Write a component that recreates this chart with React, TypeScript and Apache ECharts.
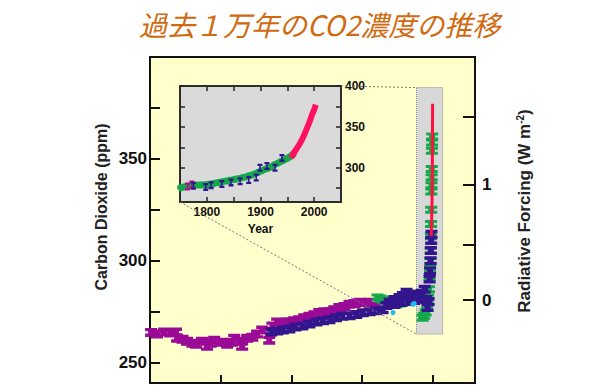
import React, { useEffect, useRef } from "react";
import * as echarts from "echarts";

const titleText = "過去１万年のCO2濃度の推移";
const leftAxisName = "Carbon Dioxide (ppm)";
const rightAxisName = "Radiative Forcing (W m{sup|-2})";
const insetXName = "Year";

// main axes (x = years before 2005)
const mainXTicks = [10000, 7500, 5000, 2500, 0];
const co2Ticks = [250, 275, 300, 325, 350, 375, 400];
const co2Labels = [250, 300, 350];
const forcingTickCO2 = [280.7, 307.7, 337.2, 370.6];
const forcingTickLabels = ["0", "0.5", "1", "1.5"];
const forcingLabelCO2 = [280.7, 337.2];

// inset axes
const insetYearTicks = [1800, 1850, 1900, 1950, 2000];
const insetYearLabels = [1800, 1900, 2000];
const insetCO2Ticks = [275, 300, 325, 350, 375, 400];
const insetCO2Labels = [300, 350, 400];

// shaded box in main chart [BP, ppm]
const boxTopLeft = [570, 385];
const boxBottomRight = [-355, 264];

// main series [years before 2005, ppm]
const magentaMain = [
  [9960, 264.8], [9750, 264], [9500, 265], [9280, 264.5], [9080, 265], [9040, 262],
  [8850, 261.5], [8690, 260.5], [8500, 259.5], [8370, 259], [8160, 260.5], [7980, 258],
  [7850, 259.5], [7730, 261], [7480, 260], [7270, 259], [7100, 260], [7020, 262],
  [6770, 260.5], [6740, 258], [6560, 262], [6380, 262.5], [6210, 264], [6030, 266],
  [5780, 261], [5670, 268], [5500, 270], [5300, 269.5], [5140, 270], [5070, 270],
  [4900, 270.5], [4720, 271], [4540, 272], [4360, 272.7], [4180, 273.5], [4010, 274.6],
  [3830, 275], [3650, 275], [3480, 276], [3300, 277], [3120, 277.5], [2940, 278.6],
  [2760, 279], [2590, 279.6], [2400, 279.5], [2230, 279.6], [2060, 277.6],
];
const blueMain = [
  [5710, 265], [5500, 265.5], [5300, 266], [5070, 266.5], [4850, 267.5], [4610, 268],
  [4360, 269], [4110, 270], [3880, 270.5], [3650, 271], [3420, 272], [3190, 272.7],
  [2940, 273], [2700, 273.6], [2470, 274.5], [2230, 275], [2000, 275.5], [1770, 276],
  [1640, 278], [1520, 279.6], [1350, 281], [1350, 278.5], [1170, 282], [1100, 279.5],
  [1050, 283], [920, 284.5], [850, 280], [800, 283.5], [710, 283], [650, 280.5],
  [600, 282.5], [500, 281.5], [460, 283.5], [380, 284], [280, 286], [220, 281],
  [177, 277], [140, 280], [106, 291], [90, 295], [70, 300], [60, 305], [50, 310], [40, 313],
];
const greenMain = [
  [1950, 282], [1850, 281.5], [1770, 281], [1650, 280.5], [1520, 280], [1400, 279],
  [1280, 278.6], [1170, 279], [1064, 279.6], [950, 280], [816, 281], [700, 281.5],
  [600, 282], [500, 282.5], [420, 281], [355, 272], [300, 273], [248, 274.6],
  [200, 278], [160, 282], [130, 286], [106, 292], [90, 296], [80, 300], [70, 305],
  [60, 312], [55, 318], [50, 325], [45, 334], [40, 337], [35, 341], [30, 345],
  [25, 354], [20, 358], [15, 361],
];
const cyanMain = [[1400, 274.6], [700, 278.6], [650, 279]];
const redMain = [[47, 312], [40, 317], [30, 322], [20, 330], [10, 345], [5, 360], [0, 377]];

// inset series [year, ppm]
const greenInset = [
  [1752, 275.6], [1758, 276.5], [1764, 277.5], [1770, 278], [1776, 278.5], [1782, 278.8],
  [1788, 279], [1794, 279], [1800, 279.3], [1806, 280], [1812, 280.5], [1818, 281.5],
  [1824, 282], [1830, 283], [1836, 283.6], [1842, 284.5], [1848, 285.3], [1854, 286],
  [1860, 286.8], [1866, 287.8], [1872, 288.6], [1878, 290], [1884, 291], [1890, 292.5],
  [1896, 294.5], [1902, 296.3], [1908, 298], [1914, 299.5], [1920, 301], [1926, 303.5],
  [1932, 305.5], [1938, 307.5], [1944, 309.5], [1950, 311.5], [1955, 313.4], [1960, 316],
];
const blueInset = [
  [1775, 278], [1798, 276.5], [1808, 278.5], [1828, 280], [1845, 282], [1862, 283.5],
  [1878, 285], [1892, 288], [1899, 300], [1912, 302], [1927, 300], [1940, 312],
];
const magentaInset = [[1764, 277], [1772, 279.5]];
const redInset = [
  [1957, 312], [1962, 318], [1968, 324], [1972, 328], [1977, 334], [1982, 341],
  [1987, 349], [1992, 357], [1996, 365], [2000, 371], [2003, 377],
];

const FONT = "Liberation Sans, Arial, sans-serif";
const blob = "path://M0,0H10V3H7.5V5H10V8H0V5H2.5V3H0Z";
const iBeam = "path://M0,0H10V2H6.5V5H10V7H0V5H3.5V2H0Z";

export default function App() {
  const ref = useRef<HTMLDivElement>(null);
  useEffect(() => {
    const chart = echarts.init(ref.current!, null, { renderer: "svg" });
    const axisLabelStyle = { color: "#111", fontFamily: FONT, fontWeight: "bold" as const };
    const option: any = {
      animation: false,
      backgroundColor: "#ffffff",
      title: {
        text: titleText,
        left: 134,
        top: 5,
        textStyle: {
          color: "#D06A10",
          fontStyle: "italic",
          fontWeight: "normal",
          fontSize: 28,
          fontFamily: "Noto Sans CJK JP",
        },
      },
      grid: [
        {
          left: 150, right: 125, top: 57, bottom: 7,
          show: true, backgroundColor: "#FFFFCC", borderColor: "#111", borderWidth: 2,
          containLabel: false,
        },
        {
          left: 180, right: 259, top: 86, bottom: 188,
          show: true, backgroundColor: "#DADADA", borderColor: "#222", borderWidth: 1.5,
          containLabel: false,
        },
      ],
      xAxis: [
        {
          type: "value", gridIndex: 0, min: -1500, max: 10000, inverse: true,
          axisLine: { show: true, onZero: false, lineStyle: { color: "#111", width: 2 } },
          axisTick: { show: true, inside: true, length: 8, lineStyle: { color: "#111", width: 2 }, customValues: mainXTicks },
          axisLabel: { show: false },
          splitLine: { show: false },
        },
        {
          type: "value", gridIndex: 1, min: 1750, max: 2050, position: "bottom",
          name: insetXName, nameLocation: "middle", nameGap: 21,
          nameTextStyle: { ...axisLabelStyle, fontSize: 12 },
          axisLine: { show: true, onZero: false, lineStyle: { color: "#222", width: 1.5 } },
          axisTick: { show: true, inside: true, length: 5, lineStyle: { color: "#222", width: 1.5 }, customValues: insetYearTicks },
          axisLabel: { ...axisLabelStyle, fontSize: 12, margin: 4, customValues: insetYearLabels, formatter: (v: number) => String(v) },
          splitLine: { show: false },
        },
        {
          type: "value", gridIndex: 1, min: 1750, max: 2050, position: "top",
          axisLine: { show: true, onZero: false, lineStyle: { color: "#222", width: 1.5 } },
          axisTick: { show: true, inside: true, length: 5, lineStyle: { color: "#222", width: 1.5 }, customValues: insetYearTicks },
          axisLabel: { show: false },
          splitLine: { show: false },
        },
      ],
      yAxis: [
        {
          type: "value", gridIndex: 0, min: 240, max: 400, position: "left",
          axisLine: { show: true, onZero: false, lineStyle: { color: "#111", width: 2 } },
          axisTick: { show: true, inside: true, length: 10, lineStyle: { color: "#111", width: 2 }, customValues: co2Ticks },
          axisLabel: { ...axisLabelStyle, fontSize: 17, margin: 3, customValues: co2Labels },
          splitLine: { show: false },
        },
        {
          type: "value", gridIndex: 0, min: 240, max: 400, position: "right",
          axisLine: { show: true, onZero: false, lineStyle: { color: "#111", width: 2 } },
          axisTick: { show: true, inside: true, length: 12, lineStyle: { color: "#111", width: 2 }, customValues: forcingTickCO2 },
          axisLabel: {
            ...axisLabelStyle, fontSize: 17, margin: 7, customValues: forcingLabelCO2,
            formatter: (v: number) => {
              const i = forcingTickCO2.findIndex((x) => Math.abs(x - v) < 0.01);
              return i >= 0 ? forcingTickLabels[i] : "";
            },
          },
          splitLine: { show: false },
        },
        {
          type: "value", gridIndex: 1, min: 258, max: 400, position: "right",
          axisLine: { show: true, onZero: false, lineStyle: { color: "#222", width: 1.5 } },
          axisTick: { show: true, inside: true, length: 5, lineStyle: { color: "#222", width: 1.5 }, customValues: insetCO2Ticks },
          axisLabel: { ...axisLabelStyle, fontSize: 12, margin: 4, customValues: insetCO2Labels },
          splitLine: { show: false },
        },
        {
          type: "value", gridIndex: 1, min: 258, max: 400, position: "left",
          axisLine: { show: true, onZero: false, lineStyle: { color: "#222", width: 1.5 } },
          axisTick: { show: true, inside: true, length: 5, lineStyle: { color: "#222", width: 1.5 }, customValues: insetCO2Ticks },
          axisLabel: { show: false },
          splitLine: { show: false },
        },
      ],
      series: [
        {
          name: "magenta", type: "scatter", xAxisIndex: 0, yAxisIndex: 0,
          data: magentaMain, symbol: blob, symbolSize: [12, 9],
          itemStyle: { color: "#9A0A96", opacity: 1 },
          markArea: {
            silent: true,
            itemStyle: { color: "#D8D8D8", borderColor: "#888", borderWidth: 1, borderType: "dotted" },
            data: [[{ coord: boxTopLeft }, { coord: boxBottomRight }]],
          },
        },
        {
          name: "green", type: "scatter", xAxisIndex: 0, yAxisIndex: 0,
          data: greenMain, symbol: blob, symbolSize: [12, 8],
          itemStyle: { color: "#14A84A", opacity: 1 },
        },
        {
          name: "blue", type: "scatter", xAxisIndex: 0, yAxisIndex: 0,
          data: blueMain, symbol: blob, symbolSize: [12, 9],
          itemStyle: { color: "#33158E", opacity: 1 },
        },
        {
          name: "cyan", type: "scatter", xAxisIndex: 0, yAxisIndex: 0,
          data: cyanMain, symbol: "circle", symbolSize: 5,
          itemStyle: { color: "#22BBEE", opacity: 1 },
        },
        {
          name: "red", type: "line", xAxisIndex: 0, yAxisIndex: 0,
          data: redMain, symbol: "none",
          lineStyle: { color: "#FF1040", width: 3 },
        },
        {
          name: "greenInset", type: "scatter", xAxisIndex: 1, yAxisIndex: 2,
          data: greenInset, symbol: "circle", symbolSize: [8, 7],
          itemStyle: { color: "#14A84A", opacity: 1 },
        },
        {
          name: "magentaInset", type: "scatter", xAxisIndex: 1, yAxisIndex: 2,
          data: magentaInset, symbol: iBeam, symbolSize: [5, 8],
          itemStyle: { color: "#B0108A", opacity: 1 },
        },
        {
          name: "blueInset", type: "scatter", xAxisIndex: 1, yAxisIndex: 2,
          data: blueInset, symbol: iBeam, symbolSize: [5, 8],
          itemStyle: { color: "#33158E", opacity: 1 },
        },
        {
          name: "redInset", type: "line", xAxisIndex: 1, yAxisIndex: 2,
          data: redInset, symbol: "none",
          lineStyle: { color: "#FF1060", width: 6 },
        },
      ],
    };
    chart.setOption(option);

    const main = (v: number[]) => chart.convertToPixel({ seriesIndex: 0 }, v) as number[];
    const inset = (v: number[]) => chart.convertToPixel({ seriesIndex: 5 }, v) as number[];
    const a1 = inset([2050, 400]);
    const a2 = main(boxTopLeft);
    const b1 = inset([1750, 258]);
    const b2 = main([boxTopLeft[0], boxBottomRight[1]]);
    const dotted = { stroke: "#777", lineWidth: 1, lineDash: [2, 2] };
    chart.setOption({
      graphic: [
        { type: "line", z: 5, shape: { x1: a1[0], y1: a1[1], x2: a2[0], y2: a2[1] }, style: dotted, silent: true },
        { type: "line", z: 5, shape: { x1: b1[0], y1: b1[1], x2: b2[0], y2: b2[1] }, style: dotted, silent: true },
        {
          type: "text", x: 101, y: 207, rotation: Math.PI / 2, silent: true,
          style: {
            text: leftAxisName, fill: "#222", font: `bold 16px ${FONT}`,
            textAlign: "center", textVerticalAlign: "middle",
          },
        },
        {
          type: "text", x: 524, y: 211, rotation: Math.PI / 2, silent: true,
          style: {
            text: rightAxisName, fill: "#222", fontFamily: FONT, fontWeight: "bold", fontSize: 17,
            textAlign: "center", textVerticalAlign: "middle",
            rich: { sup: { fontSize: 10, fontWeight: "bold", fontFamily: FONT, verticalAlign: "top", padding: [0, 0, 8, 0] } },
          },
        },
      ],
    });
    return () => chart.dispose();
  }, []);
  return <div ref={ref} style={{ position: "absolute", left: 0, top: 0, width: 600, height: 390 }} />;
}
